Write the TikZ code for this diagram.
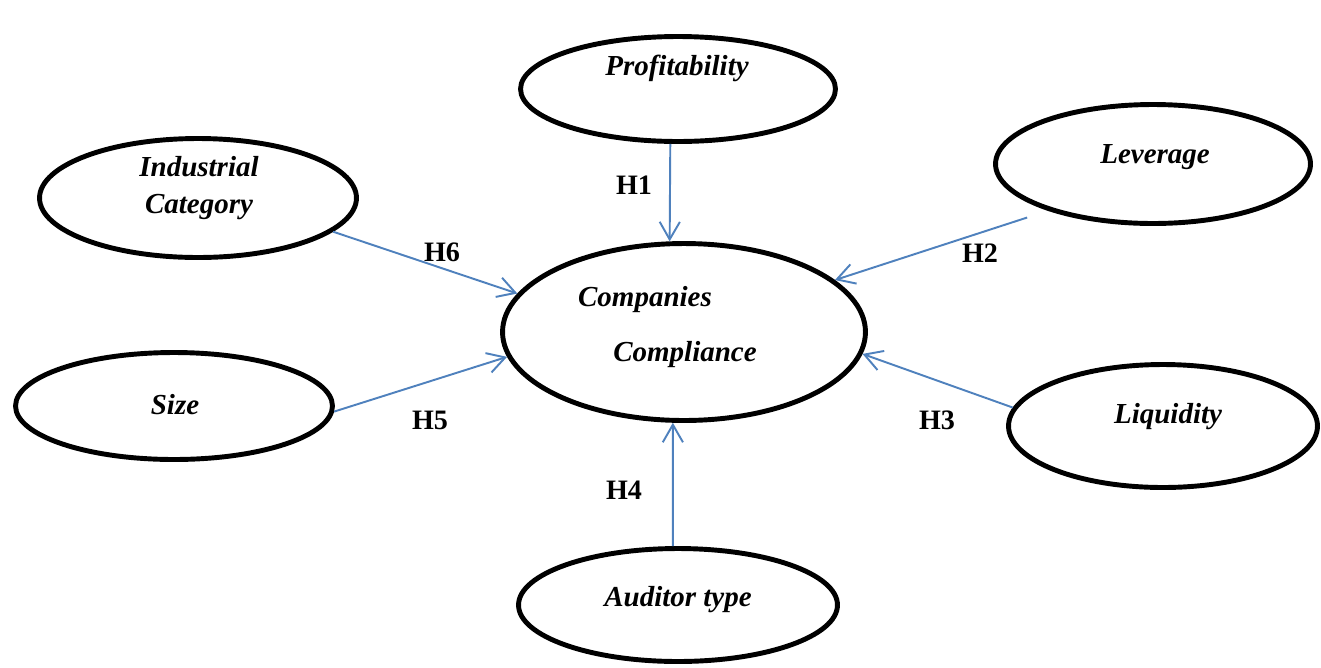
\documentclass[tikz,border=0pt]{standalone}
\usepackage{fontspec}
\setmainfont{Liberation Serif}
\usetikzlibrary{shapes.geometric,arrows.meta}
\definecolor{linkblue}{RGB}{79,129,189}

\begin{document}
\begin{tikzpicture}[x=0.02cm, y=-0.02cm,
    oval/.style={ellipse, draw, line width=2.8pt, inner sep=0pt},
    tag/.style={font=\fontsize{16.5}{21}\selectfont\bfseries\itshape, align=center, inner sep=0pt},
    hyp/.style={font=\fontsize{16}{19}\selectfont\bfseries, inner sep=0pt},
    link/.style={->, draw=linkblue, line width=1.1pt},
    >={Straight Barb[length=10pt, width=11.5pt]}]
    \useasboundingbox (0,0) rectangle (1321,667);

    % variables
    \node[oval, minimum width=6.3cm, minimum height=2.1cm] (prof) at (678,89) {};
    \node[oval, minimum width=6.34cm, minimum height=2.38cm] (ind) at (198,198) {};
    \node[oval, minimum width=6.3cm, minimum height=2.38cm] (lev) at (1153,164) {};
    \node[oval, minimum width=7.26cm, minimum height=3.54cm] (comp) at (684,332) {};
    \node[oval, minimum width=6.34cm, minimum height=2.14cm] (size) at (174,406) {};
    \node[oval, minimum width=6.18cm, minimum height=2.46cm] (liq) at (1163,426) {};
    \node[oval, minimum width=6.38cm, minimum height=2.26cm] (aud) at (678,605) {};

    % texts
    \node[tag] (profT) at (677,68) {Profitability};
    \node[tag] (indT) at (199,188) {Industrial\\Category};
    \node[tag] (levT) at (1155,157) {Leverage};
    \node[tag] (compA) at (645,300) {Companies};
    \node[tag] (compB) at (685,355) {Compliance};
    \node[tag] (sizeT) at (175,405) {Size};
    \node[tag] (liqT) at (1168,417) {Liquidity};
    \node[tag] (audT) at (678,600) {Auditor type};

    % hypotheses
    \draw[link] (prof.-98.4) -- (comp.99.4) node[hyp] (h1) at (634,185) {H1};
    \draw[link, shorten <=0.44cm] (lev.-156.4) -- (comp.19.4) node[hyp] (h2) at (980,253) {H2};
    \draw[link] (liq.173.3) -- (comp.-7.7) node[hyp] (h3) at (937,420) {H3};
    \draw[link] (aud.95.7) -- (comp.-97.5) node[hyp] (h4) at (624,490) {H4};
    \draw[link] (size.-2.4) -- (comp.-172) node[hyp] (h5) at (430,420) {H5};
    \draw[link] (ind.-14.5) -- (comp.167.6) node[hyp] (h6) at (442,252) {H6};
\end{tikzpicture}
\end{document}
